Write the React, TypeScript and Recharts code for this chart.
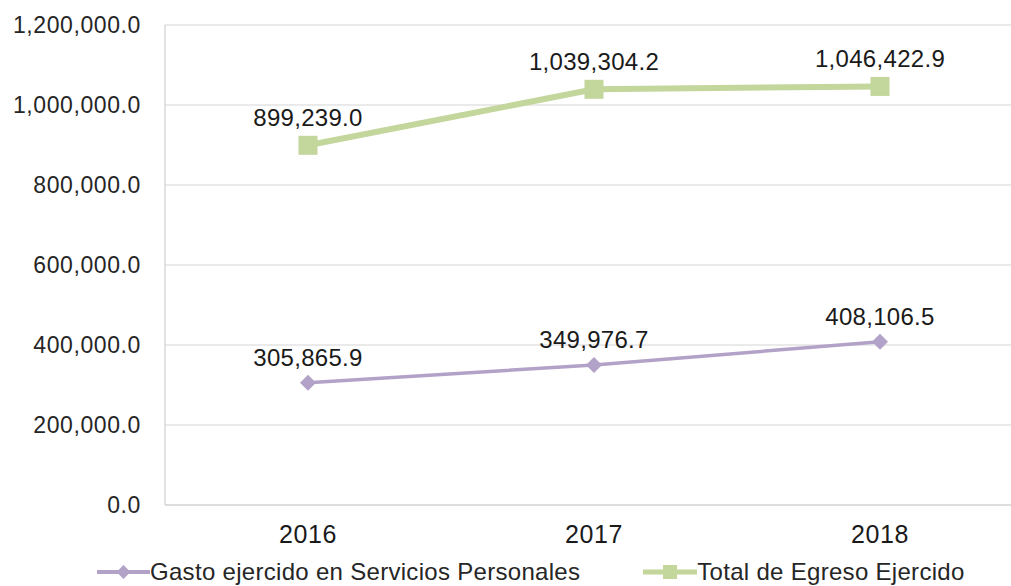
import { LineChart, Line, XAxis, YAxis, CartesianGrid, Legend, LabelList } from 'recharts';

const years = ['2016', '2017', '2018'];
const gastoServicios = [305865.9, 349976.7, 408106.5];
const totalEgreso = [899239.0, 1039304.2, 1046422.9];
const yTicks = [0, 200000, 400000, 600000, 800000, 1000000, 1200000];

const PURPLE = '#b3a2c7';
const GREEN = '#c3d69b';
const FONT = '"Liberation Sans", Arial, sans-serif';

const data = years.map((year, i) => ({
  year,
  gasto: gastoServicios[i],
  total: totalEgreso[i],
}));

const fmt = (v: number) =>
  v.toLocaleString('en-US', { minimumFractionDigits: 1, maximumFractionDigits: 1 });

const SquareDot = (props: any) => {
  const { cx, cy, index } = props;
  if (cx == null || cy == null) return null;
  return <rect key={`sq-${index}`} x={cx - 9.5} y={cy - 9.5} width={19} height={19} fill={GREEN} />;
};

const DiamondDot = (props: any) => {
  const { cx, cy, index } = props;
  if (cx == null || cy == null) return null;
  const r = 8;
  return (
    <polygon
      key={`dm-${index}`}
      points={`${cx},${cy - r} ${cx + r},${cy} ${cx},${cy + r} ${cx - r},${cy}`}
      fill={PURPLE}
    />
  );
};

const LegendContent = () => (
  <div
    style={{
      display: 'flex',
      alignItems: 'center',
      height: 36,
      paddingLeft: 97,
      paddingTop: 8,
      boxSizing: 'border-box',
      fontFamily: FONT,
      fontSize: 24,
      letterSpacing: 0.3,
      color: '#262626',
      whiteSpace: 'nowrap',
    }}
  >
    <svg width={53} height={20}>
      <line x1={0} y1={10} x2={53} y2={10} stroke={PURPLE} strokeWidth={4} />
      <polygon points="26.5,3 33.5,10 26.5,17 19.5,10" fill={PURPLE} />
    </svg>
    <span>Gasto ejercido en Servicios Personales</span>
    <svg width={54} height={20} style={{ marginLeft: 63 }}>
      <line x1={0} y1={10} x2={54} y2={10} stroke={GREEN} strokeWidth={5} />
      <rect x={20} y={3} width={14} height={14} fill={GREEN} />
    </svg>
    <span>Total de Egreso Ejercido</span>
  </div>
);

export default function App() {
  return (
    <div
      style={{
        position: 'absolute',
        left: 0,
        top: 0,
        width: 1011,
        height: 586,
        overflow: 'hidden',
        background: '#fff',
      }}
    >
      <LineChart
        width={1023}
        height={586}
        data={data}
        margin={{ top: 25, right: 0, bottom: 0, left: 0 }}
      >
        <CartesianGrid vertical={false} stroke="#e3e3e3" strokeWidth={1.5} />
        <XAxis
          dataKey="year"
          height={45}
          padding={{ left: 143, right: 143 }}
          axisLine={{ stroke: '#d9d9d9', strokeWidth: 1.5 }}
          tickLine={false}
          tickSize={0}
          tickMargin={20}
          tick={{ fill: '#1a1a1a', fontSize: 25, fontFamily: FONT, letterSpacing: 0.6 }}
        />
        <YAxis
          width={165}
          domain={[0, 1200000]}
          ticks={yTicks}
          interval={0}
          tickFormatter={fmt}
          axisLine={{ stroke: '#d9d9d9', strokeWidth: 1.5 }}
          tickLine={false}
          tickSize={0}
          tickMargin={24}
          tick={{ fill: '#262626', fontSize: 23, fontFamily: FONT, letterSpacing: 0.6 }}
        />
        <Legend
          verticalAlign="bottom"
          align="left"
          content={<LegendContent />}
          wrapperStyle={{ left: 0, width: 1011 }}
        />
        <Line
          type="linear"
          dataKey="gasto"
          stroke={PURPLE}
          strokeWidth={3.5}
          dot={<DiamondDot />}
          activeDot={false}
          isAnimationActive={false}
        >
          <LabelList
            dataKey="gasto"
            position="top"
            offset={17}
            formatter={fmt}
            style={{ fill: '#1a1a1a', fontSize: 24, fontFamily: FONT, letterSpacing: 0.3 }}
          />
        </Line>
        <Line
          type="linear"
          dataKey="total"
          stroke={GREEN}
          strokeWidth={6}
          dot={<SquareDot />}
          activeDot={false}
          isAnimationActive={false}
        >
          <LabelList
            dataKey="total"
            position="top"
            offset={19}
            formatter={fmt}
            style={{ fill: '#1a1a1a', fontSize: 24, fontFamily: FONT, letterSpacing: 0.3 }}
          />
        </Line>
      </LineChart>
    </div>
  );
}
